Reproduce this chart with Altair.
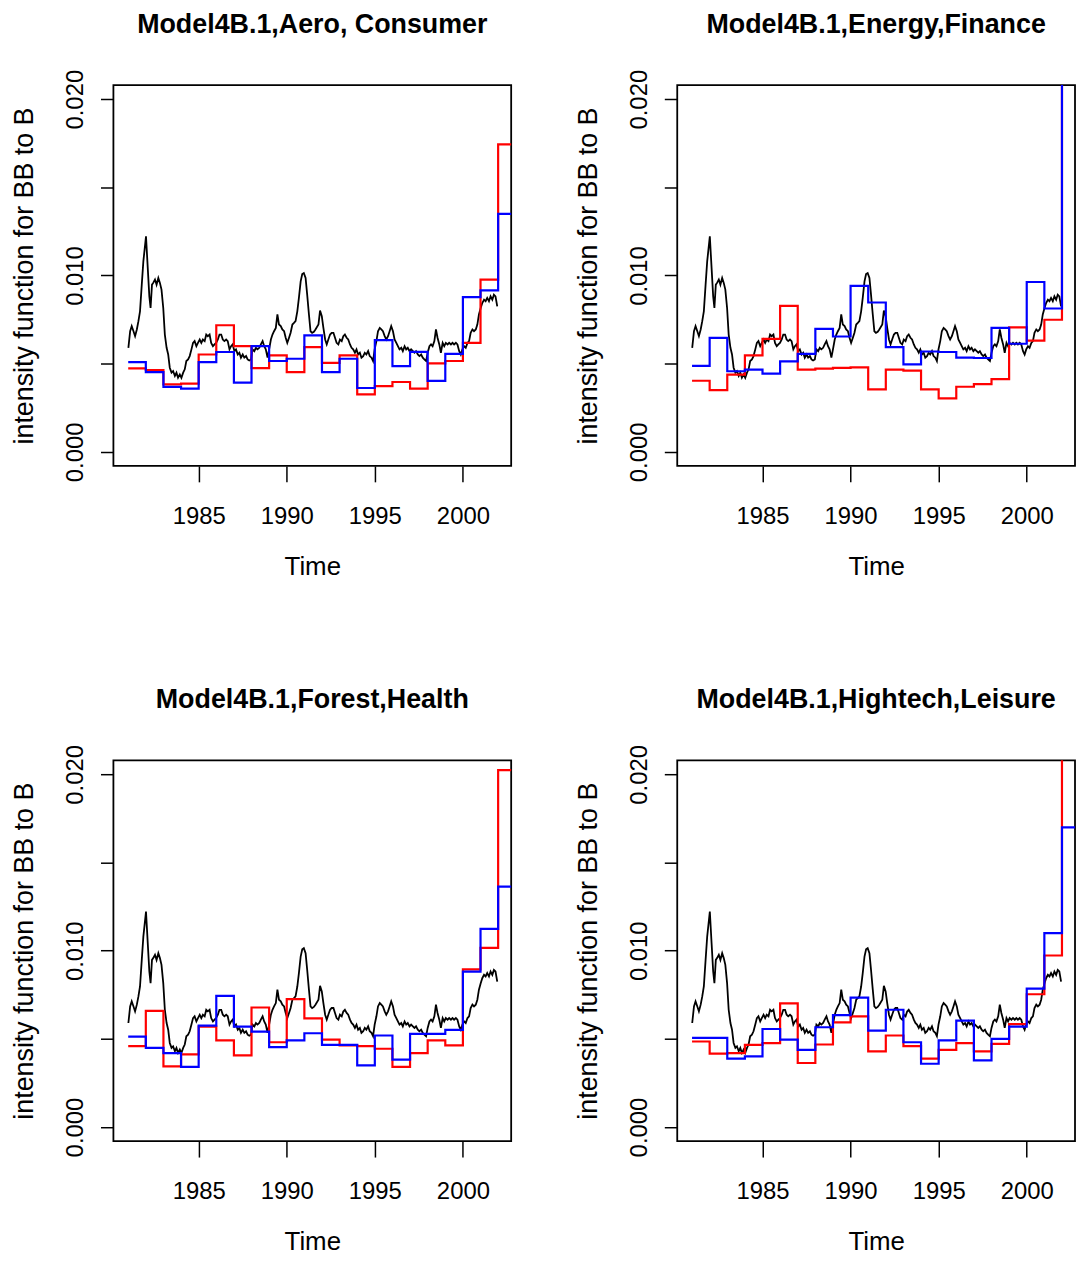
import altair as alt
import pandas as pd

# ---------------- data ----------------
BLACK_YEARS = [
    1981.01, 1981.11, 1981.20, 1981.30, 1981.39, 1981.49, 1981.58, 1981.67, 1981.77, 1981.86,
    1982.01, 1982.11, 1982.20, 1982.27, 1982.35, 1982.42, 1982.52, 1982.61, 1982.71, 1982.80,
    1982.89, 1982.99, 1983.08, 1983.18, 1983.27, 1983.36, 1983.46, 1983.55, 1983.65, 1983.74,
    1983.83, 1983.93, 1984.02, 1984.12, 1984.21, 1984.30, 1984.40, 1984.49, 1984.59, 1984.68,
    1984.77, 1984.87, 1984.96, 1985.06, 1985.15, 1985.24, 1985.34, 1985.43, 1985.52, 1985.62,
    1985.71, 1985.81, 1985.90, 1985.99, 1986.09, 1986.18, 1986.28, 1986.37, 1986.46, 1986.56,
    1986.65, 1986.75, 1986.84, 1986.93, 1987.03, 1987.12, 1987.22, 1987.31, 1987.40, 1987.50,
    1987.59, 1987.69, 1987.78, 1987.87, 1987.97, 1988.06, 1988.16, 1988.25, 1988.34, 1988.44,
    1988.53, 1988.63, 1988.72, 1988.81, 1988.91, 1989.00, 1989.10, 1989.19, 1989.28, 1989.38,
    1989.47, 1989.56, 1989.66, 1989.75, 1989.85, 1989.94, 1990.03, 1990.13, 1990.22, 1990.32,
    1990.41, 1990.50, 1990.60, 1990.69, 1990.79, 1990.88, 1990.97, 1991.07, 1991.16, 1991.26,
    1991.35, 1991.44, 1991.54, 1991.63, 1991.80, 1991.89, 1991.99, 1992.08, 1992.18, 1992.27,
    1992.36, 1992.46, 1992.55, 1992.65, 1992.74, 1992.83, 1992.93, 1993.02, 1993.12, 1993.21,
    1993.30, 1993.40, 1993.49, 1993.59, 1993.68, 1993.77, 1993.87, 1993.96, 1994.05, 1994.15,
    1994.24, 1994.34, 1994.43, 1994.52, 1994.62, 1994.71, 1994.81, 1994.90, 1994.99, 1995.09,
    1995.18, 1995.28, 1995.37, 1995.46, 1995.56, 1995.65, 1995.75, 1995.84, 1995.93, 1996.03,
    1996.12, 1996.22, 1996.31, 1996.40, 1996.50, 1996.59, 1996.69, 1996.78, 1996.87, 1996.97,
    1997.06, 1997.16, 1997.25, 1997.34, 1997.44, 1997.53, 1997.63, 1997.72, 1997.81, 1997.91,
    1998.00, 1998.10, 1998.19, 1998.28, 1998.38, 1998.47, 1998.56, 1998.66, 1998.75, 1998.85,
    1998.94, 1999.03, 1999.13, 1999.22, 1999.32, 1999.41, 1999.50, 1999.60, 1999.69, 1999.79,
    1999.88, 1999.97, 2000.07, 2000.16, 2000.26, 2000.35, 2000.44, 2000.54, 2000.63, 2000.73,
    2000.82, 2000.91, 2001.01, 2001.10, 2001.20, 2001.29, 2001.38, 2001.48, 2001.57, 2001.67,
    2001.76, 2001.85, 2001.95,
]
BLACK_VALUES = [
    0.00590, 0.00684, 0.00713, 0.00684, 0.00656, 0.00694, 0.00741, 0.00797, 0.00948, 0.01080,
    0.01222, 0.01042, 0.00882, 0.00816, 0.00948, 0.00958, 0.00977, 0.00948, 0.00986, 0.00958,
    0.00920, 0.00816, 0.00665, 0.00590, 0.00552, 0.00477, 0.00449, 0.00458, 0.00430, 0.00449,
    0.00420, 0.00439, 0.00420, 0.00449, 0.00468, 0.00515, 0.00524, 0.00543, 0.00581, 0.00618,
    0.00628, 0.00599, 0.00618, 0.00637, 0.00618, 0.00637, 0.00628, 0.00665, 0.00656, 0.00665,
    0.00618, 0.00599, 0.00609, 0.00618, 0.00637, 0.00665, 0.00665, 0.00637, 0.00628, 0.00637,
    0.00628, 0.00581, 0.00599, 0.00609, 0.00571, 0.00581, 0.00552, 0.00562, 0.00534, 0.00552,
    0.00534, 0.00543, 0.00524, 0.00518, 0.00524, 0.00581, 0.00571, 0.00590, 0.00581, 0.00590,
    0.00609, 0.00628, 0.00599, 0.00581, 0.00534, 0.00581, 0.00637, 0.00665, 0.00684, 0.00703,
    0.00779, 0.00722, 0.00713, 0.00694, 0.00684, 0.00647, 0.00618, 0.00647, 0.00675, 0.00722,
    0.00731, 0.00741, 0.00797, 0.00873, 0.00967, 0.01008, 0.01014, 0.00986, 0.00892, 0.00779,
    0.00684, 0.00675, 0.00681, 0.00694, 0.00722, 0.00801, 0.00769, 0.00703, 0.00637, 0.00609,
    0.00637, 0.00665, 0.00675, 0.00675, 0.00647, 0.00618, 0.00609, 0.00637, 0.00628, 0.00656,
    0.00665, 0.00647, 0.00637, 0.00609, 0.00590, 0.00581, 0.00562, 0.00581, 0.00552, 0.00562,
    0.00534, 0.00543, 0.00562, 0.00552, 0.00571, 0.00543, 0.00534, 0.00515, 0.00581, 0.00628,
    0.00684, 0.00703, 0.00694, 0.00684, 0.00656, 0.00637, 0.00656, 0.00684, 0.00713, 0.00684,
    0.00637, 0.00618, 0.00599, 0.00581, 0.00590, 0.00571, 0.00599, 0.00581, 0.00590, 0.00571,
    0.00581, 0.00571, 0.00562, 0.00571, 0.00552, 0.00543, 0.00552, 0.00534, 0.00524, 0.00515,
    0.00562, 0.00599, 0.00609, 0.00599, 0.00628, 0.00694, 0.00647, 0.00609, 0.00562, 0.00618,
    0.00599, 0.00618, 0.00609, 0.00618, 0.00609, 0.00618, 0.00609, 0.00618, 0.00609, 0.00571,
    0.00552, 0.00581, 0.00599, 0.00590, 0.00618, 0.00628, 0.00675, 0.00694, 0.00684, 0.00694,
    0.00722, 0.00779, 0.00816, 0.00844, 0.00863, 0.00854, 0.00873, 0.00854, 0.00882, 0.00863,
    0.00891, 0.00882, 0.00825,
]

# yearly step levels, one per year 1981..2002 (the 2002 level runs past the right edge)
STEP_YEARS = list(range(1981, 2003))
STEP_END_YEAR = 2003

TITLES = [
    "Model4B.1,Aero, Consumer",
    "Model4B.1,Energy,Finance",
    "Model4B.1,Forest,Health",
    "Model4B.1,Hightech,Leisure",
]
RED_AERO = [0.00473, 0.00464, 0.00383, 0.00387, 0.00552, 0.00718, 0.00600, 0.00475, 0.00547, 0.00452, 0.00594,
            0.00505, 0.00547, 0.00326, 0.00373, 0.00396, 0.00358, 0.00502, 0.00515, 0.00618, 0.00977, 0.01744]
BLUE_AERO = [0.00509, 0.00452, 0.00368, 0.00358, 0.00509, 0.00566, 0.00392, 0.00600, 0.00515, 0.00528, 0.00660,
             0.00452, 0.00528, 0.00362, 0.00633, 0.00486, 0.00567, 0.00402, 0.00556, 0.00877, 0.00916, 0.01350]
RED_ENERGY = [0.00403, 0.00350, 0.00438, 0.00547, 0.00641, 0.00828, 0.00466, 0.00472, 0.00476, 0.00479, 0.00354,
              0.00466, 0.00461, 0.00354, 0.00303, 0.00369, 0.00384, 0.00412, 0.00706, 0.00631, 0.00749, 0.02500]
BLUE_ENERGY = [0.00487, 0.00646, 0.00457, 0.00466, 0.00444, 0.00513, 0.00556, 0.00697, 0.00654, 0.00941, 0.00847,
               0.00594, 0.00496, 0.00569, 0.00566, 0.00534, 0.00532, 0.00703, 0.00613, 0.00963, 0.00813, 0.02600]
RED_FOREST = [0.00459, 0.00659, 0.00344, 0.00412, 0.00569, 0.00491, 0.00406, 0.00678, 0.00481, 0.00725, 0.00616,
              0.00496, 0.00463, 0.00459, 0.00444, 0.00341, 0.00419, 0.00491, 0.00463, 0.00894, 0.01016, 0.02024]
BLUE_FOREST = [0.00513, 0.00449, 0.00419, 0.00341, 0.00575, 0.00744, 0.00569, 0.00541, 0.00453, 0.00491, 0.00532,
               0.00466, 0.00466, 0.00350, 0.00519, 0.00382, 0.00528, 0.00528, 0.00551, 0.00881, 0.01124, 0.01363]
RED_HIGHTECH = [0.00485, 0.00416, 0.00419, 0.00466, 0.00476, 0.00701, 0.00363, 0.00468, 0.00594, 0.00628, 0.00429,
                0.00519, 0.00459, 0.00388, 0.00438, 0.00476, 0.00429, 0.00472, 0.00584, 0.00753, 0.00973, 0.02250]
BLUE_HIGHTECH = [0.00506, 0.00506, 0.00388, 0.00401, 0.00556, 0.00496, 0.00438, 0.00566, 0.00635, 0.00734, 0.00547,
                 0.00665, 0.00481, 0.00359, 0.00491, 0.00603, 0.00378, 0.00500, 0.00569, 0.00785, 0.01100, 0.01700]

REDS = [RED_AERO, RED_ENERGY, RED_FOREST, RED_HIGHTECH]
BLUES = [BLUE_AERO, BLUE_ENERGY, BLUE_FOREST, BLUE_HIGHTECH]

X_TICKS = [1985, 1990, 1995, 2000]
Y_TICKS = [0.0, 0.005, 0.010, 0.015, 0.020]
X_TITLE = "Time"
Y_TITLE = "intensity function for BB to B"

# ---------------- styling ----------------
FONT = "'Liberation Sans', Arial, sans-serif"
W, H = 400, 383

x_scale = alt.Scale(domain=[1980.16, 2002.74], nice=False, zero=False)
y_scale = alt.Scale(domain=[-0.0008, 0.0208], nice=False, zero=False)

x_axis = alt.Axis(
    values=X_TICKS, format="d", title=X_TITLE, domain=False, grid=False,
    tickSize=16, tickWidth=1.5, tickColor="black",
    labelFont=FONT, labelFontSize=24, labelColor="black", labelPadding=23,
    labelFlush=False, labelOverlap=False,
    titleFont=FONT, titleFontSize=26, titleFontWeight="normal", titleColor="black",
    titleY=101, titleBaseline="middle",
)
y_axis = alt.Axis(
    values=Y_TICKS, title=Y_TITLE, domain=False, grid=False,
    labelExpr="indexof(['0.000','0.010','0.020'], format(datum.value, '.3f')) >= 0 ? format(datum.value, '.3f') : ''",
    tickSize=13, tickWidth=1.5, tickColor="black",
    labelFont=FONT, labelFontSize=24, labelColor="black",
    labelAngle=270, labelAlign="center", labelBaseline="bottom", labelPadding=13,
    labelFlush=False, labelOverlap=False,
    titleFont=FONT, titleFontSize=27, titleFontWeight="normal", titleColor="black",
    titleAngle=270, titleX=-89, titleY=H / 2, titleAlign="center", titleBaseline="middle",
)

x_enc = alt.X("year:Q", scale=x_scale, axis=x_axis)
y_enc = alt.Y("value:Q", scale=y_scale, axis=y_axis)

black_df = pd.DataFrame({"year": BLACK_YEARS, "value": BLACK_VALUES})


def step_df(levels):
    years = STEP_YEARS + [STEP_END_YEAR]
    vals = list(levels) + [levels[-1]]
    return pd.DataFrame({"year": years, "value": vals})


def panel(title, red, blue):
    black = alt.Chart(black_df).mark_line(color="black", strokeWidth=1.8, clip=True).encode(x=x_enc, y=y_enc)
    r = alt.Chart(step_df(red)).mark_line(
        color="#ff0000", strokeWidth=2.2, interpolate="step-after", clip=True).encode(x=x_enc, y=y_enc)
    b = alt.Chart(step_df(blue)).mark_line(
        color="#0000ff", strokeWidth=2.2, interpolate="step-after", clip=True).encode(x=x_enc, y=y_enc)
    return alt.layer(black, r, b).properties(
        width=W, height=H,
        title=alt.TitleParams(
            text=title, font=FONT, fontSize=27, fontWeight="bold", color="black",
            anchor="middle", frame="group", baseline="alphabetic", offset=10,
        ),
    )


panels = [panel(t, r, b) for t, r, b in zip(TITLES, REDS, BLUES)]

chart = alt.concat(
    *panels, columns=2, spacing={"row": 296, "column": 167}, bounds="flush"
).properties(
    padding={"left": 2, "top": -2, "right": 0, "bottom": -3},
    background="white",
).configure_view(
    stroke="black", strokeWidth=1.8,
)

chart.save("out.html", embed_options={"renderer": "svg", "actions": False})
